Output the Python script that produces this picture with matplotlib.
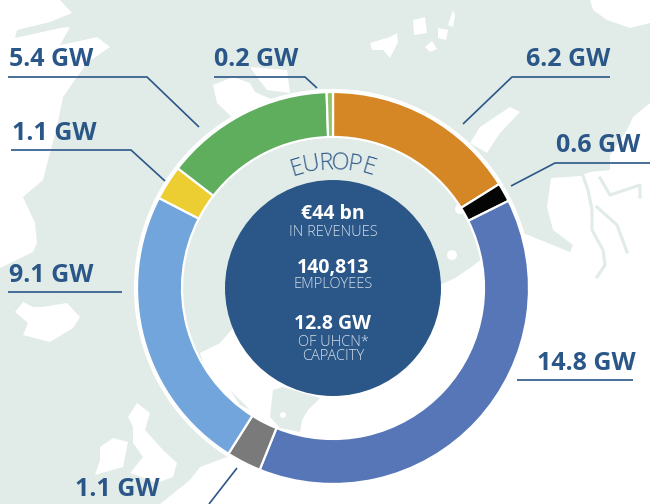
import matplotlib
matplotlib.use("Agg")
import matplotlib.pyplot as plt
from matplotlib.patches import Circle, Polygon
import numpy as np

# clockwise from 12 o'clock
segment_names = ["orange", "black", "blue", "gray", "light blue", "yellow", "green", "light green"]
capacity_gw = [6.2, 0.6, 14.8, 1.1, 9.1, 1.1, 5.4, 0.2]
segment_colors = ["#D58726", "#050505", "#5676B7", "#7A7A7A", "#72A5DC", "#ECCE33", "#5FAE5E", "#92C46D"]
capacity_labels = ["6.2 GW", "0.6 GW", "14.8 GW", "1.1 GW", "9.1 GW", "1.1 GW", "5.4 GW", "0.2 GW"]
label_pos = [(568, 60), (598, 146), (586, 364), (117, 489), (51, 276), (54, 134), (51, 60), (256, 60)]
leaders = [
    [(610, 77), (512, 77), (463, 124)],
    [(650, 163), (555, 163), (511, 186)],
    [(517, 380), (633, 380)],
    [(237, 468), (209, 504)],
    [(8, 292), (122, 292)],
    [(11, 150), (131, 150), (165, 181)],
    [(8, 77), (147, 77), (199, 127)],
    [(214, 77), (305, 77), (317, 88)],
]
region_title = "EUROPE"
center_big = [("€44 bn", 214), ("140,813", 268), ("12.8 GW", 324)]
center_small = [("IN REVENUES", 232), ("EMPLOYEES", 285), ("OF UHCN*", 342), ("CAPACITY", 356)]

PALE = "#E1EBE7"
NAVY = "#2B5788"
cx, cy = 333, 288

# background map, rough outlines in pixels
land = [
    [(160, 504), (190, 480), (200, 467), (232, 455), (200, 353), (220, 343), (240, 320), (440, 285),
     (455, 278), (470, 268), (483, 258), (510, 245), (523, 233), (570, 252), (573, 245), (553, 230),
     (547, 207), (551, 178), (580, 176), (590, 172), (610, 170), (610, 155), (627, 130), (633, 117),
     (650, 103), (650, 504)],
    [(0, 0), (60, 0), (72, 13), (50, 22), (17, 30), (15, 38), (60, 28), (70, 27), (60, 45), (75, 42),
     (97, 37), (110, 47), (87, 63), (77, 77), (63, 97), (57, 127), (50, 153), (43, 180), (23, 197),
     (35, 223), (37, 243), (33, 252), (0, 268)],
    [(470, 143), (480, 127), (510, 107), (520, 112), (500, 133), (487, 153)],
    [(590, 0), (593, 10), (607, 20), (630, 28), (650, 23), (650, 0)],
    [(213, 85), (233, 77), (250, 83), (255, 92), (285, 105), (240, 125), (217, 103)],
    [(250, 67), (287, 70), (290, 93), (267, 90), (257, 77)],
    [(370, 43), (390, 37), (397, 33), (398, 42), (390, 58), (383, 50), (372, 50)],
    [(448, 25), (453, 10), (455, 15), (453, 27)],
    [(438, 28), (448, 30), (446, 40), (438, 38)],
    [(413, 20), (425, 17), (427, 33), (414, 35)],
    [(425, 47), (432, 41), (437, 49), (430, 52)],
    [(15, 312), (23, 302), (33, 307), (42, 307), (67, 303), (80, 317), (73, 328), (50, 342), (23, 335), (28, 323)],
    [(128, 417), (137, 403), (150, 413), (145, 430), (163, 450), (177, 463), (173, 477), (157, 483),
     (130, 473), (143, 457), (133, 443), (133, 427)],
    [(100, 447), (113, 438), (128, 442), (123, 467), (95, 475), (100, 460)],
]
sea = [
    [(270, 417), (273, 390), (283, 387), (320, 398), (308, 410), (302, 420), (300, 432), (280, 428)],
    [(230, 390), (250, 410), (240, 405)],
]
channels = [
    [(582, 173), (588, 190), (592, 210), (592, 230), (603, 250), (605, 265), (597, 277)],
    [(600, 178), (610, 195), (640, 185), (640, 197)],
    [(597, 207), (617, 225), (627, 252)],
]

fig = plt.figure(figsize=(6.5, 5.04), dpi=100)
ax = fig.add_axes([0, 0, 1, 1])
ax.set_facecolor(PALE)

for pts in land:
    ax.add_patch(Polygon(pts, closed=True, fc="white", ec="none", zorder=1))
for pts in sea:
    ax.add_patch(Polygon(pts, closed=True, fc=PALE, ec="none", zorder=2))
for pts in channels:
    xs, ys = zip(*pts)
    ax.plot(xs, ys, color=PALE, lw=2.2, zorder=2)
ax.add_patch(Circle((452, 255), 5, fc="white", ec="none", zorder=2))
ax.add_patch(Circle((283, 415), 3, fc="white", ec="none", zorder=3))
ax.add_patch(Circle((460, 209), 5, fc="white", ec="none", zorder=3))
ax.add_patch(Circle((cx, cy), 198, fc="none", ec="white", lw=1.6, zorder=3))

# y axis is flipped, so -90 with counterclock is the top going clockwise
ax.pie(capacity_gw, colors=segment_colors, center=(cx, cy), radius=196, startangle=-90,
       counterclock=True, wedgeprops=dict(width=45, edgecolor="white", linewidth=1.6, zorder=4))
ax.add_patch(Circle((cx, cy), 108, fc=NAVY, ec="none", zorder=5))

ax.set_frame_on(True)
ax.set_aspect("auto")
ax.set_xlim(0, 650)
ax.set_ylim(504, 0)
ax.set_xticks([])
ax.set_yticks([])
for s in ax.spines.values():
    s.set_visible(False)

for pts in leaders:
    xs, ys = zip(*pts)
    ax.plot(xs, ys, color=NAVY, lw=1.2, zorder=6, solid_capstyle="butt")
for txt, (x, y) in zip(capacity_labels, label_pos):
    ax.text(x, y, txt, color=NAVY, fontsize=18, fontweight="bold", family="Open Sans",
            ha="center", va="center", zorder=7)

# EUROPE bent along the ring
title_angles = np.linspace(-16.5, 16.5, len(region_title))
for ch, a in zip(region_title, title_angles):
    t = np.radians(a)
    ax.text(cx + 125 * np.sin(t), cy - 125 * np.cos(t), ch, rotation=-a, rotation_mode="anchor",
            color=NAVY, fontsize=17, fontweight="light", family="Open Sans",
            ha="center", va="center", zorder=7)

for txt, y in center_big:
    ax.text(cx, y, txt, color="white", fontsize=14, fontweight="bold", family="Open Sans",
            ha="center", va="center", zorder=7)
for txt, y in center_small:
    ax.text(cx, y, txt, color="#D3DEE9", fontsize=10.5, fontweight="light", family="Open Sans",
            ha="center", va="center", zorder=7)

fig.savefig("out.png", dpi=100)
